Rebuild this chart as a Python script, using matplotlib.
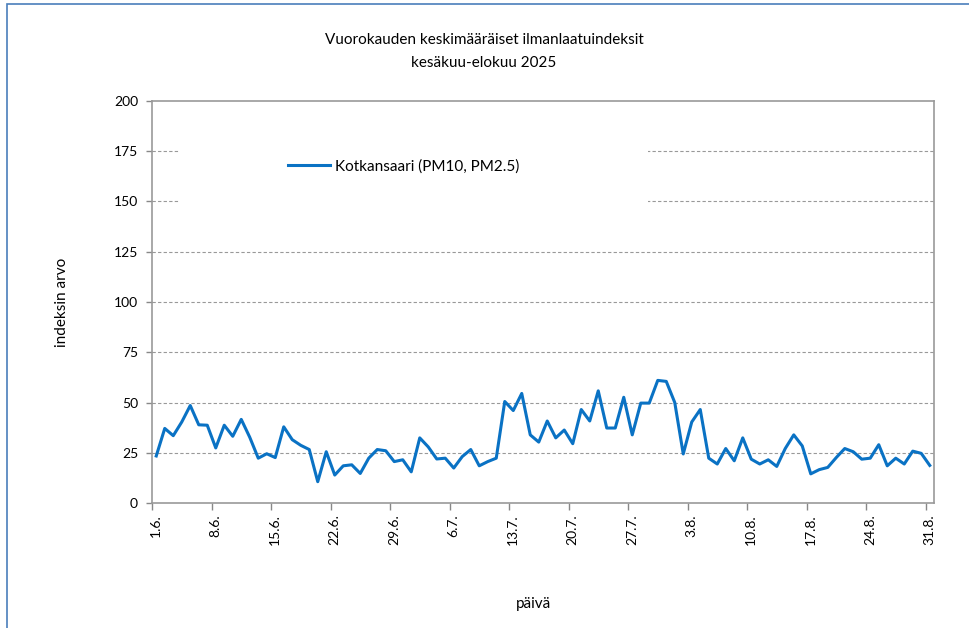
import matplotlib
matplotlib.use("Agg")
import matplotlib.pyplot as plt
from matplotlib.patches import Rectangle
import numpy as np

plt.rcParams['font.family'] = ['Lato', 'DejaVu Sans']

# päivittäiset indeksiarvot 1.6.-31.8.2025
days = ["%d.6." % d for d in range(1, 31)] + ["%d.7." % d for d in range(1, 32)] + ["%d.8." % d for d in range(1, 32)]
kotkansaari = [23.4, 37.1, 33.5, 40.3, 48.5, 38.9, 38.7, 27.4, 38.7, 33.2,
               41.6, 32.7, 22.3, 24.5, 22.6, 37.9, 31.5, 28.7, 26.6, 10.6,
               25.5, 13.9, 18.5, 19.0, 14.7, 22.3, 26.6, 26.0, 20.6, 21.5,
               15.5, 32.4, 27.9, 21.9, 22.3, 17.4, 23.1, 26.6, 18.5, 20.6,
               22.3, 50.5, 46.0, 54.5, 33.9, 30.3, 40.8, 32.4, 36.3, 29.5,
               46.5, 40.8, 55.8, 37.3, 37.3, 52.6, 33.9, 49.7, 49.7, 61.0,
               60.5, 50.0, 24.4, 40.3, 46.5, 22.3, 19.4, 27.1, 21.0, 32.4,
               21.8, 19.4, 21.5, 18.2, 27.1, 33.9, 28.4, 14.5, 16.6, 17.7,
               22.6, 27.1, 25.5, 21.8, 22.3, 29.0, 18.5, 22.3, 19.4, 25.8,
               24.7, 18.7]
yticks = [0, 25, 50, 75, 100, 125, 150, 175, 200]

fig = plt.figure(figsize=(9.69, 6.28), dpi=100)
ax = fig.add_axes([152/969, 1-503/628, 782/969, 402/628])

x = np.arange(len(days))
ax.plot(x, kotkansaari, color='#0a72c4', linewidth=2.2, label='Kotkansaari (PM10, PM2.5)', zorder=3)

ax.set_xlim(-0.5, len(days)-0.5)
ax.set_ylim(0, 200)
ax.set_yticks(yticks)
ax.tick_params(axis='y', labelsize=10, length=4, color='#888888', width=1, pad=6)
for y in yticks[1:-1]:
    ax.axhline(y, color='#999999', linestyle=(0, (3, 2)), linewidth=0.8, zorder=0)

lab_idx = list(range(0, len(days), 7))
ax.set_xticks(lab_idx)
ax.set_xticklabels([days[i] for i in lab_idx], rotation=90, fontsize=10)
ax.tick_params(axis='x', which='major', length=0, pad=8)
ax.set_xticks([i - 0.5 for i in lab_idx], minor=True)
ax.tick_params(axis='x', which='minor', length=5, color='#888888', width=1)

for s in ax.spines.values():
    s.set_color('#999999')
    s.set_linewidth(1.2)

ax.set_ylabel('indeksin arvo', fontsize=11)
ax.yaxis.set_label_coords(-0.106, 0.5)
ax.set_xlabel('päivä', fontsize=11)
ax.xaxis.set_label_coords(0.488, -0.235)

# legendan valkoinen tausta peittää apuviivat
ax.add_patch(Rectangle((0.036, 0.70), 0.598, 0.225, transform=ax.transAxes,
                       facecolor='white', edgecolor='none', zorder=1))
leg = ax.legend(loc='center left', bbox_to_anchor=(0.174, 0.838), frameon=False,
                fontsize=11, handlelength=2.75, handletextpad=0.33,
                borderpad=0, borderaxespad=0)

fig.text(484/969, 1-40/628, 'Vuorokauden keskimääräiset ilmanlaatuindeksit', ha='center', va='center', fontsize=11)
fig.text(484/969, 1-63/628, 'kesäkuu-elokuu 2025', ha='center', va='center', fontsize=11)

fig.patches.append(Rectangle((7/969, -0.1), 1.2, 1-4/628+0.1, transform=fig.transFigure,
                             fill=False, edgecolor='#4a7ebb', linewidth=1.2))

fig.savefig('out.png', dpi=100)
